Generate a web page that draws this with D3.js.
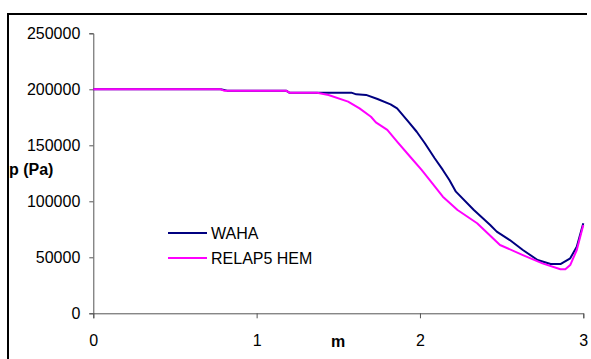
<!DOCTYPE html>
<html>
<head>
<meta charset="utf-8">
<script src="https://cdn.jsdelivr.net/npm/d3@7"></script>
<style>
  body { margin: 0; background: #fff; }
  text { font-family: "Liberation Sans", Arial, sans-serif; }
</style>
</head>
<body>
<svg id="chart" width="591" height="359"></svg>
<script>
const width = 591;
const height = 359;
const margin = { top: 33.3, right: 7.7, bottom: 45.7, left: 93.3 };

// distance along pipe (m) and pressure (Pa)
const wahaX = [0, 0.78, 0.82, 1.18, 1.2, 1.58, 1.61, 1.67, 1.74, 1.82, 1.86, 1.93, 1.98, 2.03, 2.09, 2.14, 2.18, 2.22, 2.33, 2.43, 2.47, 2.55, 2.63, 2.72, 2.8, 2.86, 2.92, 2.96, 3.0];
const wahaP = [200000, 200000, 198800, 198800, 197000, 197000, 195500, 195000, 191300, 186600, 183000, 171000, 162100, 151800, 138400, 128000, 119000, 108600, 92200, 78800, 72900, 65400, 56500, 47600, 44000, 44000, 49100, 59500, 80400];

const relapX = [0, 0.78, 0.8, 1.18, 1.2, 1.37, 1.44, 1.56, 1.63, 1.7, 1.73, 1.8, 1.86, 1.94, 2.01, 2.06, 2.14, 2.23, 2.35, 2.49, 2.63, 2.75, 2.86, 2.89, 2.92, 2.96, 3.0];
const relapP = [200000, 200000, 198800, 198800, 197000, 197000, 194900, 189000, 183000, 175500, 170500, 163700, 153200, 139800, 128000, 119000, 104100, 92200, 80400, 61000, 52000, 44600, 39300, 39300, 43100, 56500, 78800];

const xTicks = [0, 1, 2, 3];
const yTicks = [0, 50000, 100000, 150000, 200000, 250000];

const seriesNames = ["WAHA", "RELAP5 HEM"];
const seriesColors = ["#000080", "#ff00ff"];

const series = [
  { name: seriesNames[0], color: seriesColors[0], values: wahaX.map((x, i) => [x, wahaP[i]]) },
  { name: seriesNames[1], color: seriesColors[1], values: relapX.map((x, i) => [x, relapP[i]]) }
];

const svg = d3.select("#chart");

// chart frame (only top and left edges show in the picture)
svg.append("path")
  .attr("d", "M8,359V14H587")
  .attr("fill", "none")
  .attr("stroke", "#000")
  .attr("stroke-width", 2);

const x = d3.scaleLinear()
  .domain([0, 3])
  .range([margin.left, width - margin.right]);

const y = d3.scaleLinear()
  .domain([0, 250000])
  .range([height - margin.bottom, margin.top]);

const xAxis = svg.append("g")
  .attr("transform", `translate(0,${height - margin.bottom})`)
  .call(d3.axisBottom(x).tickValues(xTicks).tickFormat(d3.format("d")).tickSizeOuter(0).tickSize(5).tickPadding(16));

const yAxis = svg.append("g")
  .attr("transform", `translate(${margin.left},0)`)
  .call(d3.axisLeft(y).tickValues(yTicks).tickFormat(d3.format("d")).tickSizeOuter(0).tickSize(4).tickPadding(9));

[xAxis, yAxis].forEach(g => {
  g.selectAll("path, line").attr("stroke", "#555");
  g.selectAll("text")
    .attr("fill", "#000")
    .style("font-size", "16px");
});

svg.append("text")
  .attr("x", 9)
  .attr("y", 175)
  .style("font-size", "16px")
  .style("font-weight", "bold")
  .text("p (Pa)");

svg.append("text")
  .attr("x", 338)
  .attr("y", 347)
  .attr("text-anchor", "middle")
  .style("font-size", "16px")
  .style("font-weight", "bold")
  .text("m");

const line = d3.line()
  .x(d => x(d[0]))
  .y(d => y(d[1]));

svg.selectAll(".series")
  .data(series)
  .join("path")
  .attr("class", "series")
  .attr("d", d => line(d.values))
  .attr("fill", "none")
  .attr("stroke", d => d.color)
  .attr("stroke-width", 2)
  .attr("stroke-linejoin", "round");

// legend
const legend = svg.append("g")
  .attr("transform", "translate(168,233)");

series.forEach((s, i) => {
  legend.append("line")
    .attr("x1", 0)
    .attr("x2", 39)
    .attr("y1", i * 25)
    .attr("y2", i * 25)
    .attr("stroke", s.color)
    .attr("stroke-width", 2);
  legend.append("text")
    .attr("x", 43)
    .attr("y", i * 25 + 6)
    .style("font-size", "16px")
    .text(s.name);
});
</script>
</body>
</html>
